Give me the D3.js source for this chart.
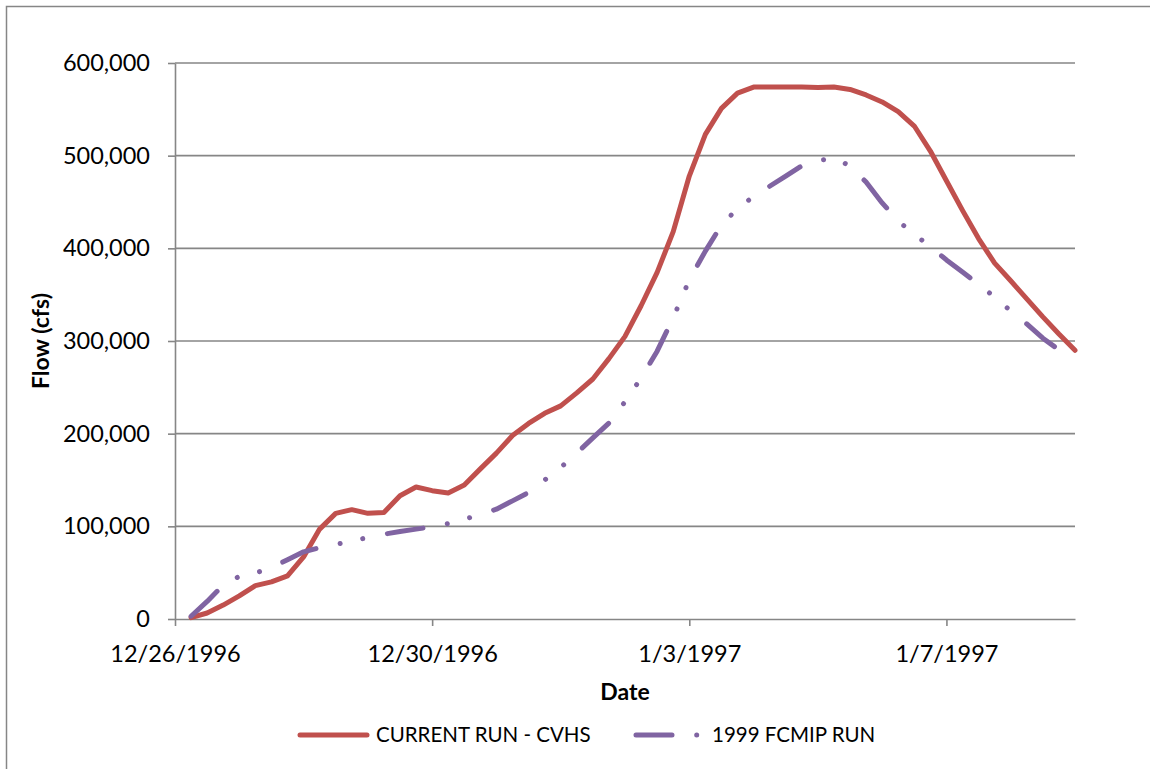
<!DOCTYPE html>
<html>
<head>
<meta charset="utf-8">
<script src="https://cdn.jsdelivr.net/npm/d3@7"></script>
<style>
  html, body { margin: 0; padding: 0; background: #fff; }
  #chart { width: 1150px; height: 769px; }
  text { font-family: Lato, "Open Sans", "Liberation Sans", sans-serif; fill: #000; }
</style>
</head>
<body>
<div id="chart"></div>
<script>
// readings every 6 hours, 12/26/1996 06:00 to 1/9/1997 00:00
const times = [
  "1996-12-26T06", "1996-12-26T12", "1996-12-26T18", "1996-12-27T00",
  "1996-12-27T06", "1996-12-27T12", "1996-12-27T18", "1996-12-28T00",
  "1996-12-28T06", "1996-12-28T12", "1996-12-28T18", "1996-12-29T00",
  "1996-12-29T06", "1996-12-29T12", "1996-12-29T18", "1996-12-30T00",
  "1996-12-30T06", "1996-12-30T12", "1996-12-30T18", "1996-12-31T00",
  "1996-12-31T06", "1996-12-31T12", "1996-12-31T18", "1997-01-01T00",
  "1997-01-01T06", "1997-01-01T12", "1997-01-01T18", "1997-01-02T00",
  "1997-01-02T06", "1997-01-02T12", "1997-01-02T18", "1997-01-03T00",
  "1997-01-03T06", "1997-01-03T12", "1997-01-03T18", "1997-01-04T00",
  "1997-01-04T06", "1997-01-04T12", "1997-01-04T18", "1997-01-05T00",
  "1997-01-05T06", "1997-01-05T12", "1997-01-05T18", "1997-01-06T00",
  "1997-01-06T06", "1997-01-06T12", "1997-01-06T18", "1997-01-07T00",
  "1997-01-07T06", "1997-01-07T12", "1997-01-07T18", "1997-01-08T00",
  "1997-01-08T06", "1997-01-08T12", "1997-01-08T18", "1997-01-09T00"
];

const currentRun = [
  1500, 6500, 15000, 25000, 36000, 40000, 46500, 67000,
  97000, 114000, 118000, 114000, 115000, 133000, 142500, 138500,
  136000, 144500, 162000, 179000, 198000, 211000, 222000, 230000,
  244000, 259000, 281000, 305000, 338000, 374000, 418000, 478000,
  523000, 551000, 567500, 574000, 574000, 574000, 574000, 573500,
  574000, 571500, 565500, 558000, 547500, 532000, 505000, 473000,
  441000, 410500, 384000, 365000, 345500, 326000, 307500, 290000
];

const fcmipRun = [
  3000, 19000, 36500, 46000, 49500, 55500, 64000, 72500,
  77000, 80500, 84000, 88000, 91500, 94500, 97000, 99500,
  103000, 107500, 113000, 118500, 127500, 136500, 150000, 163500,
  179000, 195500, 211500, 234500, 260000, 289000, 325000, 366000,
  397000, 425000, 443000, 456000, 467000, 478000, 489000, 494500,
  497500, 489000, 471500, 449000, 429500, 415000, 402000, 387500,
  374500, 361000, 347500, 332500, 318500, 303000, 290500, 279500
];

const seriesNames = ["CURRENT RUN - CVHS", "1999 FCMIP RUN"];
const seriesColors = ["#C0504D", "#8064A2"];
const xTickLabels = ["12/26/1996", "12/30/1996", "1/3/1997", "1/7/1997"];
const yTickValues = [0, 100000, 200000, 300000, 400000, 500000, 600000];
const xDomainLabels = ["12/26/1996", "1/9/1997"];

const dashPattern = "36 24.7 0.01 23.1 0.01 25.2";
const gridColor = "#868686";

window.addEventListener('load', drawChart);

function drawChart() {
  const parseTime = d3.timeParse("%Y-%m-%dT%H");
  const parseDay = d3.timeParse("%-m/%-d/%Y");

  const margin = { top: 63, right: 75, bottom: 150, left: 175 };
  const W = 1150, H = 769;
  const width = W - margin.left - margin.right;
  const height = H - margin.top - margin.bottom;

  const svg = d3.select('#chart').append('svg')
    .attr('width', W)
    .attr('height', H);

  // outer chart border (runs off the right / bottom edge)
  svg.append('rect')
    .attr('x', 6.5).attr('y', 6.5)
    .attr('width', 1200).attr('height', 800)
    .attr('fill', 'none')
    .attr('stroke', gridColor)
    .attr('stroke-width', 1.5);

  const g = svg.append('g')
    .attr('transform', `translate(${margin.left},${margin.top})`);

  const x = d3.scaleTime()
    .domain(xDomainLabels.map(parseDay))
    .range([0, width]);
  const y = d3.scaleLinear()
    .domain([0, 600000])
    .range([height, 0]);

  // gridlines
  g.append('g')
    .selectAll('line')
    .data(yTickValues.filter(d => d > 0))
    .enter()
    .append('line')
      .attr('x1', 0).attr('x2', width)
      .attr('y1', d => y(d)).attr('y2', d => y(d))
      .attr('stroke', gridColor)
      .attr('stroke-width', 1.6);

  const yAxis = g.append('g')
    .call(d3.axisLeft(y)
      .tickValues(yTickValues)
      .tickSize(7)
      .tickSizeOuter(0)
      .tickPadding(18)
      .tickFormat(d3.format(',')));

  const xAxis = g.append('g')
    .attr('transform', `translate(0,${height})`)
    .call(d3.axisBottom(x)
      .tickValues(xTickLabels.map(parseDay))
      .tickSize(7)
      .tickSizeOuter(0)
      .tickPadding(19)
      .tickFormat(d3.timeFormat('%-m/%-d/%Y')));

  [yAxis, xAxis].forEach(ax => {
    ax.select('.domain').attr('stroke', gridColor).attr('stroke-width', 1.6);
    ax.selectAll('.tick line').attr('stroke', gridColor).attr('stroke-width', 1.6);
    ax.selectAll('.tick text')
      .style('font-size', '23.5px')
      .attr('fill', '#000');
  });

  // axis titles
  g.append('text')
    .attr('x', width / 2)
    .attr('y', height + 81)
    .attr('text-anchor', 'middle')
    .style('font-size', '23px')
    .style('font-weight', 'bold')
    .text('Date');

  g.append('text')
    .attr('transform', `translate(${-126},${height / 2}) rotate(-90)`)
    .attr('text-anchor', 'middle')
    .style('font-size', '23px')
    .style('font-weight', 'bold')
    .text('Flow (cfs)');

  // series
  const rows = times.map((t, i) => ({
    date: parseTime(t),
    current: currentRun[i],
    fcmip: fcmipRun[i]
  }));

  const lineFor = key => d3.line()
    .x(d => x(d.date))
    .y(d => y(d[key]));

  g.append('path')
    .datum(rows)
    .attr('d', lineFor('current'))
    .attr('fill', 'none')
    .attr('stroke', seriesColors[0])
    .attr('stroke-width', 5)
    .attr('stroke-linejoin', 'round')
    .attr('stroke-linecap', 'round');

  g.append('path')
    .datum(rows)
    .attr('d', lineFor('fcmip'))
    .attr('fill', 'none')
    .attr('stroke', seriesColors[1])
    .attr('stroke-width', 5)
    .attr('stroke-linejoin', 'round')
    .attr('stroke-linecap', 'round')
    .attr('stroke-dasharray', dashPattern);

  // legend
  const legend = svg.append('g')
    .attr('transform', 'translate(0,735)');

  const legendItems = [
    { x: 300, dash: null },
    { x: 636, dash: dashPattern }
  ];

  legendItems.forEach((item, i) => {
    legend.append('line')
      .attr('x1', item.x).attr('x2', item.x + 67)
      .attr('y1', 0).attr('y2', 0)
      .attr('stroke', seriesColors[i])
      .attr('stroke-width', 5)
      .attr('stroke-linecap', 'round')
      .attr('stroke-dasharray', item.dash);
    legend.append('text')
      .attr('x', item.x + 76)
      .attr('y', 0)
      .attr('dy', '0.35em')
      .style('font-size', '20.5px')
      .text(seriesNames[i]);
  });
}
</script>
</body>
</html>
